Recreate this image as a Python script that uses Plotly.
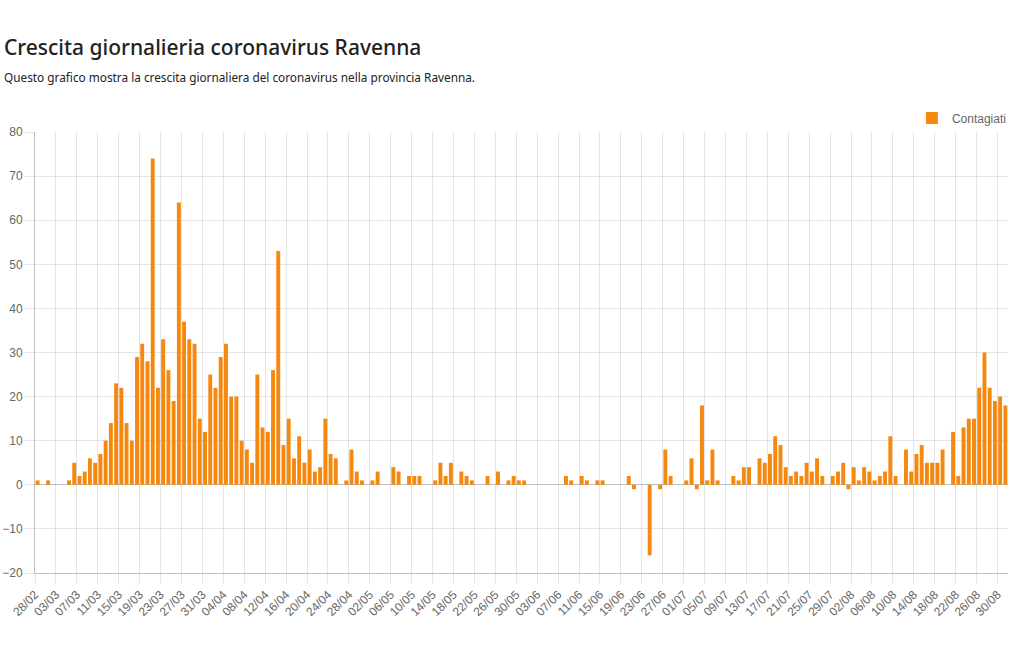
import plotly.graph_objects as go
import datetime as dt

# Daily dates 28/02/2020 .. 31/08/2020
start = dt.date(2020, 2, 28)
n_days = 186
dates = [(start + dt.timedelta(days=i)).strftime("%d/%m") for i in range(n_days)]

contagiati = [
    1, 0, 1, 0, 0, 0, 1, 5, 2, 3,
    6, 5, 7, 10, 14, 23, 22, 14, 10, 29,
    32, 28, 74, 22, 33, 26, 19, 64, 37, 33,
    32, 15, 12, 25, 22, 29, 32, 20, 20, 10,
    8, 5, 25, 13, 12, 26, 53, 9, 15, 6,
    11, 5, 8, 3, 4, 15, 7, 6, 0, 1,
    8, 3, 1, 0, 1, 3, 0, 0, 4, 3,
    0, 2, 2, 2, 0, 0, 1, 5, 2, 5,
    0, 3, 2, 1, 0, 0, 2, 0, 3, 0,
    1, 2, 1, 1, 0, 0, 0, 0, 0, 0,
    0, 2, 1, 0, 2, 1, 0, 1, 1, 0,
    0, 0, 0, 2, -1, 0, 0, -16, 0, -1,
    8, 2, 0, 0, 1, 6, -1, 18, 1, 8,
    1, 0, 0, 2, 1, 4, 4, 0, 6, 5,
    7, 11, 9, 4, 2, 3, 2, 5, 3, 6,
    2, 0, 2, 3, 5, -1, 4, 1, 4, 3,
    1, 2, 3, 11, 2, 0, 8, 3, 7, 9,
    5, 5, 5, 8, 0, 12, 2, 13, 15, 15,
    22, 30, 22, 19, 20, 18,
]

tick_idx = list(range(0, n_days, 4))
tick_labels = [dates[i] for i in tick_idx]

title_text = "Crescita giornalieria coronavirus Ravenna"
subtitle_text = "Questo grafico mostra la crescita giornaliera del coronavirus nella provincia Ravenna."

x = list(range(n_days))

fig = go.Figure()
fig.add_trace(go.Bar(
    x=x, y=contagiati, name="Contagiati",
    marker=dict(color="#f5880e", line=dict(width=0)),
    customdata=dates,
    hovertemplate="%{customdata}: %{y}<extra></extra>",
    showlegend=True,
))

grid = "rgba(0,0,0,0.1)"
tickfont = dict(family="Liberation Sans, Arial, sans-serif", size=12, color="#666666")

fig.update_layout(
    width=1024, height=659,
    margin=dict(l=35, r=16, t=132, b=86, autoexpand=False),
    paper_bgcolor="white", plot_bgcolor="white",
    bargap=0.25,
    showlegend=True,
    legend=dict(
        orientation="h", x=1.004, xanchor="right", y=1.032, yanchor="middle",
        font=dict(family="Liberation Sans, Arial, sans-serif", size=12, color="#666666"),
        bgcolor="rgba(0,0,0,0)", itemwidth=30,
    ),
    xaxis=dict(
        range=[-0.5, n_days - 0.5],
        tickmode="array",
        tickvals=[i - 0.5 for i in tick_idx],
        ticktext=tick_labels,
        tickangle=-45,
        tickfont=tickfont,
        automargin=False,
        showgrid=True, gridcolor=grid, gridwidth=1,
        ticks="outside", ticklen=9, tickcolor=grid,
        showline=True, linecolor="rgba(0,0,0,0.25)", linewidth=1,
        zeroline=False,
    ),
    yaxis=dict(
        range=[-20, 80],
        dtick=10, tick0=0,
        tickfont=tickfont,
        automargin=False,
        showgrid=True, gridcolor=grid, gridwidth=1,
        ticks="outside", ticklen=9, tickcolor=grid,
        showline=True, linecolor="rgba(0,0,0,0.25)", linewidth=1,
        zeroline=True, zerolinecolor="rgba(0,0,0,0.25)", zerolinewidth=1,
    ),
    annotations=[
        dict(text=title_text, xref="paper", yref="paper",
             x=-0.0339, y=1.1927, xanchor="left", yanchor="middle", showarrow=False,
             font=dict(family="Noto Sans, sans-serif", size=21, color="#222222", weight=500)),
        dict(text=subtitle_text, xref="paper", yref="paper",
             x=-0.0339, y=1.1247, xanchor="left", yanchor="middle", showarrow=False,
             font=dict(family="Noto Sans, sans-serif", size=11.8, color="#222222")),
    ],
)

fig.write_html("out.html")
